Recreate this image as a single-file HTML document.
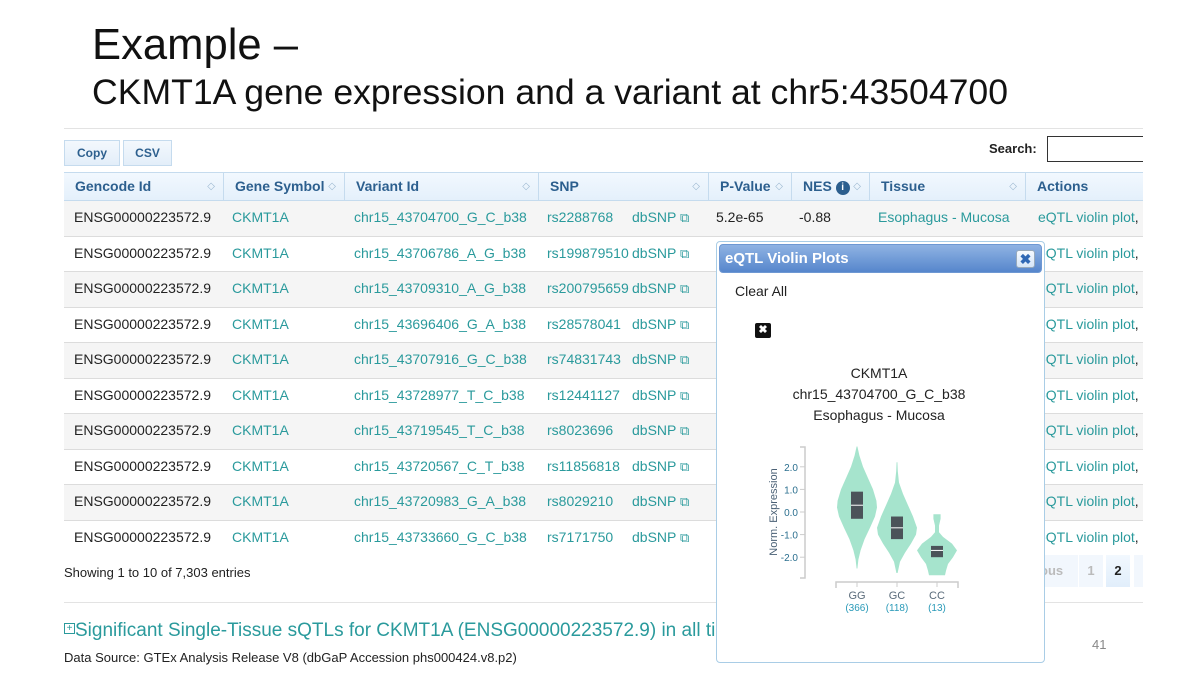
<!DOCTYPE html>
<html><head><meta charset="utf-8">
<style>
*{margin:0;padding:0;box-sizing:border-box}
body{width:1200px;height:675px;background:#fff;position:relative;overflow:hidden;font-family:"Liberation Sans",sans-serif}
.abs{position:absolute}
.btn{position:absolute;top:140px;height:26px;border:1px solid #c5dbee;background:linear-gradient(#f3f8fd,#e3eef9);color:#2c5f8e;font-weight:bold;font-size:12px;line-height:24px;text-align:center}
#tbl{position:absolute;left:64px;top:172px;width:1079px;overflow:hidden;height:383px}
.hrow{position:absolute;left:0;top:0;height:29px;width:1079px;background:linear-gradient(#f2f8fe,#e4f0fb);border-top:1px solid #c5dbee;border-bottom:1px solid #c5dbee}
.hc{position:absolute;top:0;height:27px;line-height:27px;font-weight:bold;font-size:14px;color:#2c5f8e;padding-left:11px;border-left:1px solid #c5dbee;white-space:nowrap}
.hc .s{position:absolute;right:8px;top:0;color:#9bb7d0;font-size:10px;font-weight:normal}
.row{position:absolute;left:0;width:1079px;height:35.5px;border-bottom:1px solid #dcdcdc;font-size:14px}
.c{position:absolute;top:0;line-height:32px;white-space:nowrap;color:#222}
.t{color:#2a9a9c}
</style></head><body>
<svg class="abs" style="left:0;top:0" width="1200" height="120">
<text x="92" y="59" font-family="Liberation Sans Narrow, Liberation Sans, sans-serif" font-size="44" fill="#111" textLength="206" lengthAdjust="spacingAndGlyphs">Example –</text>
<text x="92" y="104" font-family="Liberation Sans Narrow, Liberation Sans, sans-serif" font-size="35" fill="#111" textLength="916" lengthAdjust="spacingAndGlyphs">CKMT1A gene expression and a variant at chr5:43504700</text>
</svg>
<div class="abs" style="left:64px;top:128px;width:1079px;height:1px;background:#e3e3e3"></div>
<div class="btn" style="left:64px;width:56px">Copy</div>
<div class="btn" style="left:123px;width:49px">CSV</div>
<div class="abs" style="left:989px;top:141px;font-size:13px;font-weight:bold;color:#222">Search:</div>
<div class="abs" style="left:1047px;top:136px;width:96px;height:26px;border:1px solid #333;border-right:none;background:#fff"></div>

<div id="tbl">
<div class="hrow">
<div class="hc" style="left:0;width:159px;border-left:none">Gencode Id<span class="s">◇</span></div>
<div class="hc" style="left:159px;width:121px">Gene Symbol<span class="s">◇</span></div>
<div class="hc" style="left:280px;width:194px">Variant Id<span class="s">◇</span></div>
<div class="hc" style="left:474px;width:170px">SNP<span class="s">◇</span></div>
<div class="hc" style="left:644px;width:83px">P-Value<span class="s">◇</span></div>
<div class="hc" style="left:727px;width:78px">NES <span style="display:inline-block;width:14px;height:14px;border-radius:7px;background:#2c5f8e;color:#fff;font-size:10px;line-height:14px;text-align:center;vertical-align:1px">i</span><span class="s">◇</span></div>
<div class="hc" style="left:805px;width:156px">Tissue<span class="s">◇</span></div>
<div class="hc" style="left:961px;width:130px">Actions</div>
</div>
<div id="rows"></div>
</div>

<div class="abs" style="left:64px;top:565px;font-size:13px;color:#222">Showing 1 to 10 of 7,303 entries</div>
<div class="abs" style="left:1040px;top:555px;width:38px;height:32px;background:#f2f7fd;color:#bbb;font-size:13px;font-weight:bold;line-height:32px;padding-left:0">ous</div>
<div class="abs" style="left:1079px;top:555px;width:24px;height:32px;background:#f2f7fd;color:#bbb;font-size:13px;font-weight:bold;line-height:32px;text-align:center">1</div>
<div class="abs" style="left:1106px;top:555px;width:24px;height:32px;background:linear-gradient(#f2f8fe,#e1eefb);color:#222;font-size:13px;font-weight:bold;line-height:32px;text-align:center">2</div>
<div class="abs" style="left:1134px;top:555px;width:9px;height:32px;background:#f2f7fd"></div>
<div class="abs" style="left:64px;top:602px;width:1079px;height:1px;background:#e3e3e3"></div>
<div class="abs" style="left:64px;top:620px;font-size:19px;color:#2a9a9c;white-space:nowrap"><span style="display:inline-block;width:11px;height:11px;border:1px solid #2a9a9c;font-size:10px;line-height:9px;text-align:center;vertical-align:5px">+</span>Significant Single-Tissue sQTLs for CKMT1A (ENSG00000223572.9) in all tissues</div>
<div class="abs" style="left:64px;top:650px;font-size:13px;color:#222;white-space:nowrap">Data Source: GTEx Analysis Release V8 (dbGaP Accession phs000424.v8.p2)</div>
<div class="abs" style="left:1092px;top:637px;font-size:13px;color:#888">41</div>

<div class="abs" style="left:716px;top:241px;width:329px;height:422px;background:#fff;border:1px solid #a9cde6;border-radius:4px">
<div class="abs" style="left:2px;top:2px;width:323px;height:29px;border-radius:4px;background:linear-gradient(#8fb3e3,#5686cc);border:1px solid #6e98d3">
<div class="abs" style="left:5px;top:5px;color:#fff;font-weight:bold;font-size:15px">eQTL Violin Plots</div>
<div class="abs" style="left:296px;top:5px;width:19px;height:18px;border-radius:3px;background:linear-gradient(#f6faff,#d6e6f8);border:1px solid #9ab;color:#2f68b5;font-weight:bold;font-size:14px;line-height:16px;text-align:center">✖</div>
</div>
<div class="abs" style="left:18px;top:41px;font-size:14px;color:#222">Clear All</div>
<div class="abs" style="left:38px;top:81px;width:16px;height:15px;background:#111;border-radius:2px;color:#fff;font-size:11px;line-height:15px;text-align:center;font-weight:bold">✖</div>
</div>

<svg class="abs" style="left:716px;top:241px" width="329" height="420" id="vsvg">
<text x="163" y="137" text-anchor="middle" font-size="14" fill="#222">CKMT1A</text>
<text x="163" y="158" text-anchor="middle" font-size="14" fill="#222">chr15_43704700_G_C_b38</text>
<text x="163" y="179" text-anchor="middle" font-size="14" fill="#222">Esophagus - Mucosa</text>
<g id="plot"></g>
</svg>

<script>
// ---- table data ----
const varIds=["chr15_43704700_G_C_b38","chr15_43706786_A_G_b38","chr15_43709310_A_G_b38","chr15_43696406_G_A_b38","chr15_43707916_G_C_b38","chr15_43728977_T_C_b38","chr15_43719545_T_C_b38","chr15_43720567_C_T_b38","chr15_43720983_G_A_b38","chr15_43733660_G_C_b38"];
const snps=["rs2288768","rs199879510","rs200795659","rs28578041","rs74831743","rs12441127","rs8023696","rs11856818","rs8029210","rs7171750"];
const rowsEl=document.getElementById('rows');
varIds.forEach((v,i)=>{
  const r=document.createElement('div');
  r.className='row';
  
  
  r.style.top=(29+i*35.5)+'px';
  if(i%2===0) r.style.background='#f5f5f5';
  let h='<div class="c" style="left:10px">ENSG00000223572.9</div>'+
  '<div class="c t" style="left:168px">CKMT1A</div>'+
  '<div class="c t" style="left:290px">'+v+'</div>'+
  '<div class="c t" style="left:483px">'+snps[i]+'</div>'+
  '<div class="c t" style="left:568px">dbSNP <span style="font-size:13px">⧉</span></div>'+
  '<div class="c t" style="left:974px">eQTL violin plot<span style="color:#222">, </span>I</div>';
  if(i===0) h+='<div class="c" style="left:652px">5.2e-65</div><div class="c" style="left:735px">-0.88</div><div class="c t" style="left:814px">Esophagus - Mucosa</div>';
  r.innerHTML=h;
  rowsEl.appendChild(r);
});

// ---- violin data ----
const groups=["GG","GC","CC"];
const counts=["(366)","(118)","(13)"];
const yTicks=[2,1,0,-1,-2];
const tickLabels=["2.0","1.0","0.0","-1.0","-2.0"];
// density profiles: expression value -> relative half-width (0..1)
const ggY=[2.9,2.5,2.0,1.5,1.0,0.5,0.2,-0.2,-0.7,-1.2,-1.7,-2.1,-2.5];
const ggW=[0.02,0.12,0.3,0.55,0.8,0.97,1.0,0.9,0.65,0.38,0.18,0.07,0.02];
const gcY=[2.2,1.8,1.3,0.8,0.3,-0.2,-0.7,-1.0,-1.4,-1.8,-2.2,-2.7];
const gcW=[0.02,0.04,0.1,0.3,0.55,0.8,1.0,0.95,0.7,0.4,0.15,0.03];
const ccY=[-0.1,-0.3,-0.6,-0.9,-1.1,-1.4,-1.7,-2.0,-2.3,-2.6,-2.8];
const ccW=[0.18,0.18,0.1,0.1,0.3,0.75,1.0,0.8,0.55,0.45,0.4];
const boxQ1=[-0.3,-1.2,-2.0];
const boxMed=[0.3,-0.7,-1.7];
const boxQ3=[0.9,-0.2,-1.5];
const profiles=[[ggY,ggW],[gcY,gcW],[ccY,ccW]];

const NS='http://www.w3.org/2000/svg';
const g=document.getElementById('plot');
const yS=v=>271-v*22.6;           // axis function (svg coords relative to popup)
const xS=i=>141+i*40;
const maxHW=20;
function mk(t,a){const e=document.createElementNS(NS,t);for(const k in a)e.setAttribute(k,a[k]);g.appendChild(e);return e;}
// y axis
let ya=mk('path',{d:'M84 206 H89 V337 H84',fill:'none',stroke:'#ccc','stroke-width':1.5});


yTicks.forEach((t,i)=>{
  let l=mk('line',{x1:84,x2:89,y1:yS(t),y2:yS(t),stroke:'#ccc'});
  
  
  let tx=mk('text',{x:82,y:yS(t)+4,'text-anchor':'end','font-size':10,fill:'#2b6f8f'});
  tx.textContent=tickLabels[i];
  
  
});
let yt=mk('text',{x:0,y:0,'text-anchor':'middle','font-size':11,fill:'#4a6075',transform:'translate(61,271) rotate(-90)'});
yt.textContent='Norm. Expression';


// x axis
let xa=mk('path',{d:'M120 347 V341 H242 V347',fill:'none',stroke:'#ccc','stroke-width':1.5});


groups.forEach((gr,i)=>{
  const cx=xS(i);
  let tk=mk('line',{x1:cx,x2:cx,y1:341,y2:346,stroke:'#ccc'});
  
  
  const [ys,ws]=profiles[i];
  let d='';
  ys.forEach((y,j)=>{d+=(j?'L':'M')+(cx+ws[j]*maxHW).toFixed(1)+' '+yS(y).toFixed(1)+' ';});
  for(let j=ys.length-1;j>=0;j--){d+='L'+(cx-ws[j]*maxHW).toFixed(1)+' '+yS(ys[j]).toFixed(1)+' ';}
  let v=mk('path',{d:d+'Z',fill:'#a6e4cd',stroke:'none'});
  
  
  let b=mk('rect',{x:cx-6,y:yS(boxQ3[i]),width:12,height:yS(boxQ1[i])-yS(boxQ3[i]),fill:'#4b5359'});
  
  
  let m=mk('line',{x1:cx-6,x2:cx+6,y1:yS(boxMed[i]),y2:yS(boxMed[i]),stroke:'#fff','stroke-width':1});
  
  
  let l1=mk('text',{x:cx,y:358,'text-anchor':'middle','font-size':11,fill:'#5a6b7a'});
  l1.textContent=gr;
  
  
  let l2=mk('text',{x:cx,y:370,'text-anchor':'middle','font-size':10,fill:'#2a9ab8'});
  l2.textContent=counts[i];
  
  
});
</script>
</body></html>
